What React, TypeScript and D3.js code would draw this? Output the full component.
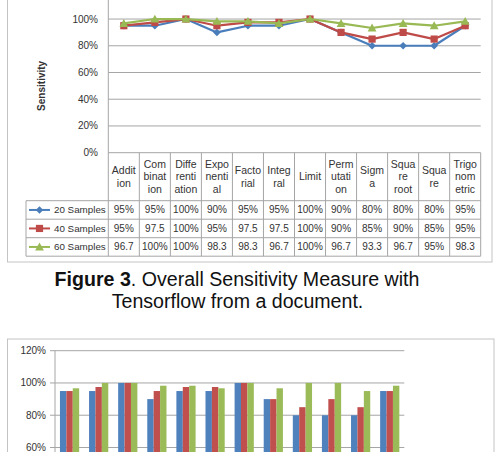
import React from "react";
import * as d3 from "d3";

// Problem categories and how each one wraps in the data-table header
const categories = [
  "Addition", "Combination", "Differentiation", "Exponential", "Factorial", "Integral",
  "Limit", "Permutation", "Sigma", "Square root", "Square", "Trigonometric",
];
const headerLines = [
  ["Addit", "ion"], ["Com", "binat", "ion"], ["Diffe", "renti", "ation"], ["Expo", "nenti", "al"],
  ["Facto", "rial"], ["Integ", "ral"], ["Limit"], ["Perm", "utati", "on"], ["Sigm", "a"],
  ["Squa", "re", "root"], ["Squa", "re"], ["Trigo", "nom", "etric"],
];
const seriesNames = ["20 Samples", "40 Samples", "60 Samples"];

// Sensitivity (%) per category, line chart with data table
const samples20 = [95, 95, 100, 90, 95, 95, 100, 90, 80, 80, 80, 95];
const samples40 = [95, 97.5, 100, 95, 97.5, 97.5, 100, 90, 85, 90, 85, 95];
const samples60 = [96.7, 100, 100, 98.3, 98.3, 96.7, 100, 96.7, 93.3, 96.7, 95, 98.3];

// Sensitivity (%) per category, clustered bar chart
const bars20 = [95, 95, 100, 90, 95, 95, 100, 90, 80, 80, 80, 95];
const bars40 = [95, 97.5, 100, 95, 97.5, 97.5, 100, 90, 85, 90, 85, 95];
const bars60 = [96.7, 100, 100, 98.3, 98.3, 96.7, 100, 96.7, 100, 100, 95, 98.3];

const lineTicks = [0, 0.2, 0.4, 0.6, 0.8, 1.0];
const barTicks = [0.6, 0.8, 1.0, 1.2];

const colors = ["#4a7ebb", "#be4b48", "#98b954"];
const barColors = ["#4f81bd", "#c0504d", "#9bbb59"];
const FONT = "'Liberation Sans', Arial, sans-serif";
const GRID = "#a6a6a6";
const FRAME = "#c4c4c4";
const TEXT = "#333";

const pct = d3.format(".0%");
const cellLabel = (v: number) => (Number.isInteger(v) ? `${v}%` : `${v}`);

function Marker({ kind, x, y, color }: { kind: number; x: number; y: number; color: string }) {
  if (kind === 0) {
    const s = 3.8;
    return <path d={`M${x},${y - s}L${x + s},${y}L${x},${y + s}L${x - s},${y}Z`} fill={color} />;
  }
  if (kind === 1) {
    return <rect x={x - 3.6} y={y - 3.6} width={7.2} height={7.2} fill={color} />;
  }
  const s = 4.4;
  return <path d={`M${x},${y - s}L${x + s},${y + s * 0.8}L${x - s},${y + s * 0.8}Z`} fill={color} />;
}

function LineChartWithTable() {
  const series = [samples20, samples40, samples60];
  const x = d3.scaleBand<string>().domain(categories).range([108.3, 480.7]);
  const y = d3.scaleLinear().domain([0, 1.2]).range([152.7, -7.7]);
  const cx = (c: string) => (x(c) as number) + x.bandwidth() / 2;
  const line = d3
    .line<number>()
    .x((_, i) => cx(categories[i]))
    .y((v) => y(v / 100));

  const headerTop = y(0);
  const headerBottom = 200.7;
  const rowH = 18.5;
  const legendLeft = 26;
  const tableRight = x.range()[1];
  const rowsBottom = headerBottom + rowH * 3;

  return (
    <g>
      <rect x={7.5} y={-20} width={484.5} height={282} fill="#fff" stroke={FRAME} strokeWidth={1} />
      {lineTicks.map((t) => (
        <g key={t}>
          <line x1={x.range()[0]} x2={tableRight} y1={y(t)} y2={y(t)} stroke={GRID} strokeWidth={1} />
          <text x={98} y={y(t)} dy="0.35em" textAnchor="end" fontSize={10} fill={TEXT} fontFamily={FONT}>
            {pct(t)}
          </text>
        </g>
      ))}
      <line x1={x.range()[0]} x2={x.range()[0]} y1={y(1.2)} y2={rowsBottom} stroke={GRID} />
      <text
        transform={`translate(41,${y(0.5)}) rotate(-90)`}
        textAnchor="middle"
        dy="0.35em"
        fontSize={10}
        fontWeight="bold"
        fill={TEXT}
        fontFamily={FONT}
      >
        Sensitivity
      </text>

      {/* data table */}
      {categories.map((c, i) => (
        <g key={c}>
          <line x1={(x(c) as number) + x.bandwidth()} x2={(x(c) as number) + x.bandwidth()} y1={headerTop} y2={rowsBottom} stroke={GRID} />
          {headerLines[i].map((w, j) => (
            <text
              key={j}
              x={cx(c)}
              y={(headerTop + headerBottom) / 2 + (j - (headerLines[i].length - 1) / 2) * 12.7}
              dy="0.35em"
              textAnchor="middle"
              fontSize={10.5}
              fill={TEXT}
              fontFamily={FONT}
            >
              {w}
            </text>
          ))}
        </g>
      ))}
      <line x1={legendLeft} x2={legendLeft} y1={headerBottom} y2={rowsBottom} stroke={GRID} />
      {[0, 1, 2, 3].map((r) => (
        <line key={r} x1={legendLeft} x2={tableRight} y1={headerBottom + r * rowH} y2={headerBottom + r * rowH} stroke={GRID} />
      ))}
      {series.map((vals, s) => {
        const rowY = headerBottom + rowH * s + rowH / 2;
        return (
          <g key={s}>
            <line x1={29} x2={50} y1={rowY} y2={rowY} stroke={colors[s]} strokeWidth={2} />
            <Marker kind={s} x={39.5} y={rowY} color={colors[s]} />
            <text x={54} y={rowY} dy="0.35em" fontSize={9.8} fill={TEXT} fontFamily={FONT}>
              {seriesNames[s]}
            </text>
            {vals.map((v, i) => (
              <text key={i} x={cx(categories[i])} y={rowY} dy="0.35em" textAnchor="middle" fontSize={10} fill={TEXT} fontFamily={FONT}>
                {cellLabel(v)}
              </text>
            ))}
          </g>
        );
      })}

      {/* series lines */}
      {series.map((vals, s) => (
        <g key={s}>
          <path d={line(vals) as string} fill="none" stroke={colors[s]} strokeWidth={2.2} strokeLinejoin="round" />
          {vals.map((v, i) => (
            <Marker key={i} kind={s} x={cx(categories[i])} y={y(v / 100)} color={colors[s]} />
          ))}
        </g>
      ))}
    </g>
  );
}

function Caption() {
  return (
    <g fontFamily={FONT} fontSize={19.6} fill="#111" textAnchor="middle">
      <text x={237} y={285.7}>
        <tspan fontWeight="bold">Figure 3</tspan>
        <tspan>. Overall Sensitivity Measure with</tspan>
      </text>
      <text x={237.5} y={308.3}>Tensorflow from a document.</text>
    </g>
  );
}

function BarChart() {
  const series = [bars20, bars40, bars60];
  const x = d3.scaleBand<string>().domain(categories).range([55, 404.3]).paddingInner(0.34).paddingOuter(0.17);
  const xs = d3.scaleBand<string>().domain(seriesNames).range([0, x.bandwidth()]);
  const y = d3.scaleLinear().domain([0, 1.2]).range([544.3, 350.7]);
  return (
    <g>
      <rect x={7.5} y={339} width={486.5} height={140} fill="#fff" stroke={FRAME} strokeWidth={1} />
      {barTicks.map((t) => (
        <g key={t}>
          <line x1={50} x2={404.3} y1={y(t)} y2={y(t)} stroke={GRID} strokeWidth={1} />
          <text x={46} y={y(t)} dy="0.35em" textAnchor="end" fontSize={10} fill={TEXT} fontFamily={FONT}>
            {pct(t)}
          </text>
        </g>
      ))}
      <line x1={55} x2={55} y1={y(1.2)} y2={y(0)} stroke={GRID} />
      {series.map((vals, s) =>
        vals.map((v, i) => (
          <rect
            key={`${s}-${i}`}
            x={(x(categories[i]) as number) + (xs(seriesNames[s]) as number)}
            y={y(v / 100)}
            width={xs.bandwidth()}
            height={y(0) - y(v / 100)}
            fill={barColors[s]}
          />
        ))
      )}
    </g>
  );
}

export default function App() {
  return (
    <svg
      width={497}
      height={452}
      style={{ position: "absolute", left: 0, top: 0, background: "#fff" }}
    >
      <rect width={497} height={452} fill="#fff" />
      <LineChartWithTable />
      <Caption />
      <BarChart />
    </svg>
  );
}
